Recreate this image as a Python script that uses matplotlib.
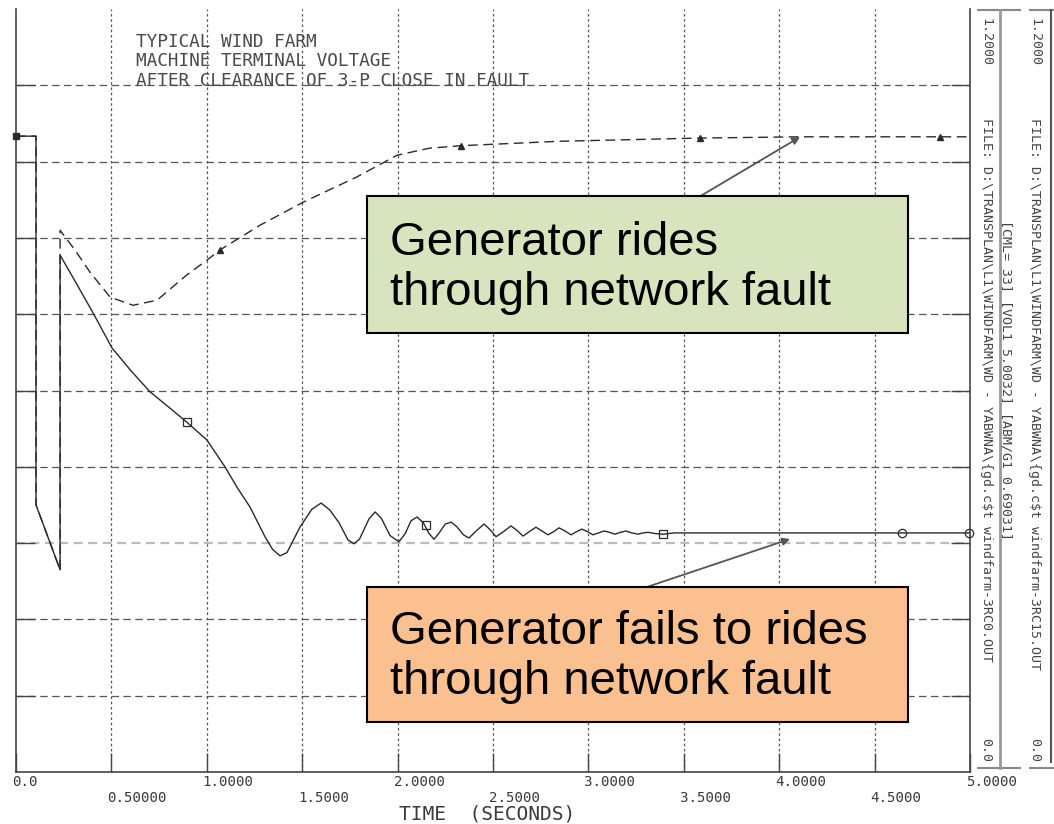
import numpy as np
import matplotlib
matplotlib.use("Agg")
import matplotlib.pyplot as plt
from matplotlib.patches import Rectangle
from matplotlib import transforms

# ---------------- data ----------------
x_ticks = [0.0, 0.5, 1.0, 1.5, 2.0, 2.5, 3.0, 3.5, 4.0, 4.5, 5.0]
x_tick_labels = ["0.0", "0.50000", "1.0000", "1.5000", "2.0000", "2.5000",
                 "3.0000", "3.5000", "4.0000", "4.5000", "5.0000"]
y_grid = [0.12, 0.24, 0.36, 0.48, 0.60, 0.72, 0.84, 0.96, 1.08]

# Generator rides through network fault (dashed)
rides_t = [0.000, 0.105, 0.105, 0.231, 0.231, 0.309, 0.388, 0.493, 0.613, 0.739,
           0.896, 1.001, 1.069, 1.279, 1.504, 1.787, 1.997, 2.165, 2.332, 2.851,
           3.585, 4.109, 5.000]
rides_v = [1.000, 1.000, 0.420, 0.318, 0.852, 0.821, 0.786, 0.747, 0.734, 0.742,
           0.782, 0.805, 0.821, 0.860, 0.896, 0.936, 0.970, 0.981, 0.985, 0.992,
           0.997, 0.999, 0.999]
rides_marker_t = [1.069, 2.332, 3.585, 4.843]
rides_marker_v = [0.821, 0.985, 0.997, 0.999]

# Generator fails to ride through network fault (solid)
fails_t = [0.000, 0.105, 0.105, 0.231, 0.231, 0.300, 0.404, 0.503, 0.600, 0.702,
           0.800, 0.896, 1.001, 1.095, 1.160, 1.226, 1.305, 1.345, 1.384, 1.420,
           1.488, 1.550, 1.599, 1.645, 1.693, 1.740, 1.771, 1.800, 1.850, 1.882,
           1.915, 1.960, 2.007, 2.040, 2.070, 2.102, 2.135, 2.165, 2.191, 2.220,
           2.250, 2.280, 2.310, 2.345, 2.374, 2.415, 2.453, 2.485, 2.516, 2.555,
           2.594, 2.626, 2.657, 2.690, 2.725, 2.757, 2.788, 2.818, 2.846, 2.878,
           2.909, 2.938, 2.966, 2.995, 3.024, 3.053, 3.082, 3.110, 3.139, 3.168,
           3.197, 3.228, 3.260, 3.286, 3.312, 3.350, 3.391, 3.450, 4.000, 5.000]
fails_v = [1.000, 1.000, 0.420, 0.318, 0.813, 0.777, 0.722, 0.667, 0.632, 0.598,
           0.574, 0.550, 0.522, 0.480, 0.447, 0.417, 0.370, 0.350, 0.340, 0.345,
           0.385, 0.413, 0.423, 0.412, 0.392, 0.365, 0.359, 0.366, 0.398, 0.409,
           0.399, 0.372, 0.362, 0.375, 0.395, 0.401, 0.392, 0.375, 0.366, 0.377,
           0.390, 0.393, 0.386, 0.373, 0.368, 0.380, 0.390, 0.381, 0.370, 0.378,
           0.387, 0.380, 0.371, 0.378, 0.385, 0.379, 0.373, 0.378, 0.384, 0.379,
           0.373, 0.378, 0.382, 0.378, 0.373, 0.376, 0.379, 0.377, 0.374, 0.377,
           0.379, 0.376, 0.374, 0.376, 0.377, 0.375, 0.374, 0.376, 0.376, 0.376]
fails_square_t = [0.896, 2.149, 3.391]
fails_square_v = [0.550, 0.388, 0.374]
fails_circle_t = [4.644, 4.995]
fails_circle_v = [0.376, 0.376]

title_lines = ["TYPICAL WIND FARM", "MACHINE TERMINAL VOLTAGE",
               "AFTER CLEARANCE OF 3-P CLOSE IN FAULT"]
file1 = "FILE: D:\\TRANSPLAN\\L1\\WINDFARM\\WD - YABWNA\\{gd.c$t windfarm-3RC0.OUT"
file1_info = "[CML= 33] [VOL1 5.0032] [ABM/G1 0.69031]"
file2 = "FILE: D:\\TRANSPLAN\\L1\\WINDFARM\\WD - YABWNA\\{gd.c$t windfarm-3RC15.OUT"
y_top_label = "1.2000"
y_bot_label = "0.0"
x_label = "TIME  (SECONDS)"
box_green_text = "Generator rides\nthrough network fault"
box_orange_text = "Generator fails to rides\nthrough network fault"

# ---------------- figure ----------------
W, H = 1054, 824
fig = plt.figure(figsize=(W / 100, H / 100), dpi=100)
fig.patch.set_facecolor("white")

ax = fig.add_axes([16 / W, 52 / H, 954 / W, 763 / H])
ax.set_xlim(0, 5.0)
ax.set_ylim(0, 1.2)

grid_col = "#555555"
for x in x_ticks[1:-1]:
    ax.axvline(x, color=grid_col, lw=0.9, ls=(0, (2, 2.2)), zorder=1)
for y in y_grid:
    if abs(y - 0.36) < 1e-6:
        ax.axhline(y, color="#bbbbbb", lw=1.6, ls=(0, (4, 2.5)), zorder=1)
    else:
        ax.axhline(y, color=grid_col, lw=0.9, ls=(0, (6, 3.5)), zorder=1)

ax.set_xticks(x_ticks)
ax.set_yticks(y_grid)
ax.tick_params(direction="in", length=14, width=1.0, color="#444444",
               left=True, right=True, bottom=True, top=False,
               labelleft=False, labelbottom=False)
for s in ["left", "right", "bottom"]:
    ax.spines[s].set_color("#444444")
    ax.spines[s].set_linewidth(1.2)
ax.spines["top"].set_visible(False)

line_col = "#2a2a2a"
ax.plot(rides_t, rides_v, color=line_col, lw=1.0, ls=(0, (7, 4)), zorder=3)
ax.plot(fails_t, fails_v, color=line_col, lw=1.0, zorder=4)
ax.plot(rides_marker_t, rides_marker_v, ls="none", marker="^", ms=4,
        color=line_col, zorder=5)
ax.plot(fails_square_t, fails_square_v, ls="none", marker="s", ms=6,
        mfc="none", mec=line_col, mew=0.9, zorder=5)
ax.plot(fails_circle_t, fails_circle_v, ls="none", marker="o", ms=6,
        mfc="none", mec=line_col, mew=0.9, zorder=5, clip_on=False)
ax.plot([fails_t[0]], [fails_v[0]], ls="none", marker="s", ms=5,
        color=line_col, zorder=6, clip_on=False)

# x tick labels in two staggered rows
mono = "DejaVu Sans Mono"
tr = transforms.blended_transform_factory(ax.transData, ax.transAxes)
off = transforms.ScaledTranslation(-4 / 100, 0, fig.dpi_scale_trans)
for i, (x, lab) in enumerate(zip(x_ticks, x_tick_labels)):
    yy = -0.0130 if i % 2 == 0 else -0.0335
    ax.text(x, yy, lab, transform=tr + off, ha="left", va="center",
            family=mono, fontsize=10.2, color="#3a3a3a", clip_on=False)

fig.text(487 / W, 1 - 814 / H, x_label, ha="center", va="center",
         family=mono, fontsize=14, color="#3a3a3a")

for i, t in enumerate(title_lines):
    fig.text(136 / W, 1 - (42 + 19.5 * i) / H, t, ha="left", va="center",
             family=mono, fontsize=12.8, color="#4a4a4a")

# ---------------- overlay (pixel coordinates) ----------------
ov = fig.add_axes([0, 0, 1, 1], zorder=5)
ov.set_xlim(0, W)
ov.set_ylim(H, 0)
ov.axis("off")
ov.patch.set_visible(False)

# right-hand file legend columns
side_kw = dict(family=mono, fontsize=9.5, color="#444444", rotation=-90,
               ha="center")
for xc, fname in [(986, file1), (1035, file2)]:
    ov.text(xc, 18, y_top_label, va="top", **side_kw)
    ov.text(xc, 118, fname, va="top", **side_kw)
    ov.text(xc, 762, y_bot_label, va="bottom", **side_kw)
ov.text(1006, 220, file1_info, va="top", **side_kw)

ov.plot([978, 1020], [10, 10], color="#888888", lw=1.5)
ov.plot([978, 1020], [768, 768], color="#888888", lw=1.5)
ov.plot([1000, 1000], [10, 768], color="#999999", lw=2.0)
ov.plot([1030, 1054], [10, 10], color="#888888", lw=1.5)
ov.plot([1030, 1054], [768, 768], color="#888888", lw=1.5)
ov.plot([1051, 1051], [10, 762], color="#555555", lw=1.5)

# arrows
ov.annotate("", xy=(800, 137), xytext=(650, 226),
            arrowprops=dict(arrowstyle="-|>", color="#555555", lw=1.3,
                            mutation_scale=11, shrinkA=0, shrinkB=0),
            zorder=2)
ov.annotate("", xy=(790, 539), xytext=(620, 596),
            arrowprops=dict(arrowstyle="-|>", color="#555555", lw=1.3,
                            mutation_scale=11, shrinkA=0, shrinkB=0),
            zorder=2)

# annotation boxes
ov.add_patch(Rectangle((367, 196), 541, 137, facecolor="#d7e4bd",
                       edgecolor="black", lw=1.5, zorder=3))
ov.add_patch(Rectangle((367, 587), 541, 135, facecolor="#fac090",
                       edgecolor="black", lw=1.5, zorder=3))
ov.text(390, 268, box_green_text, ha="left", va="center",
        family="Liberation Sans", fontsize=34, linespacing=1.16, zorder=4)
ov.text(390, 657, box_orange_text, ha="left", va="center",
        family="Liberation Sans", fontsize=34, linespacing=1.16, zorder=4)

fig.savefig("out.png", dpi=100)
